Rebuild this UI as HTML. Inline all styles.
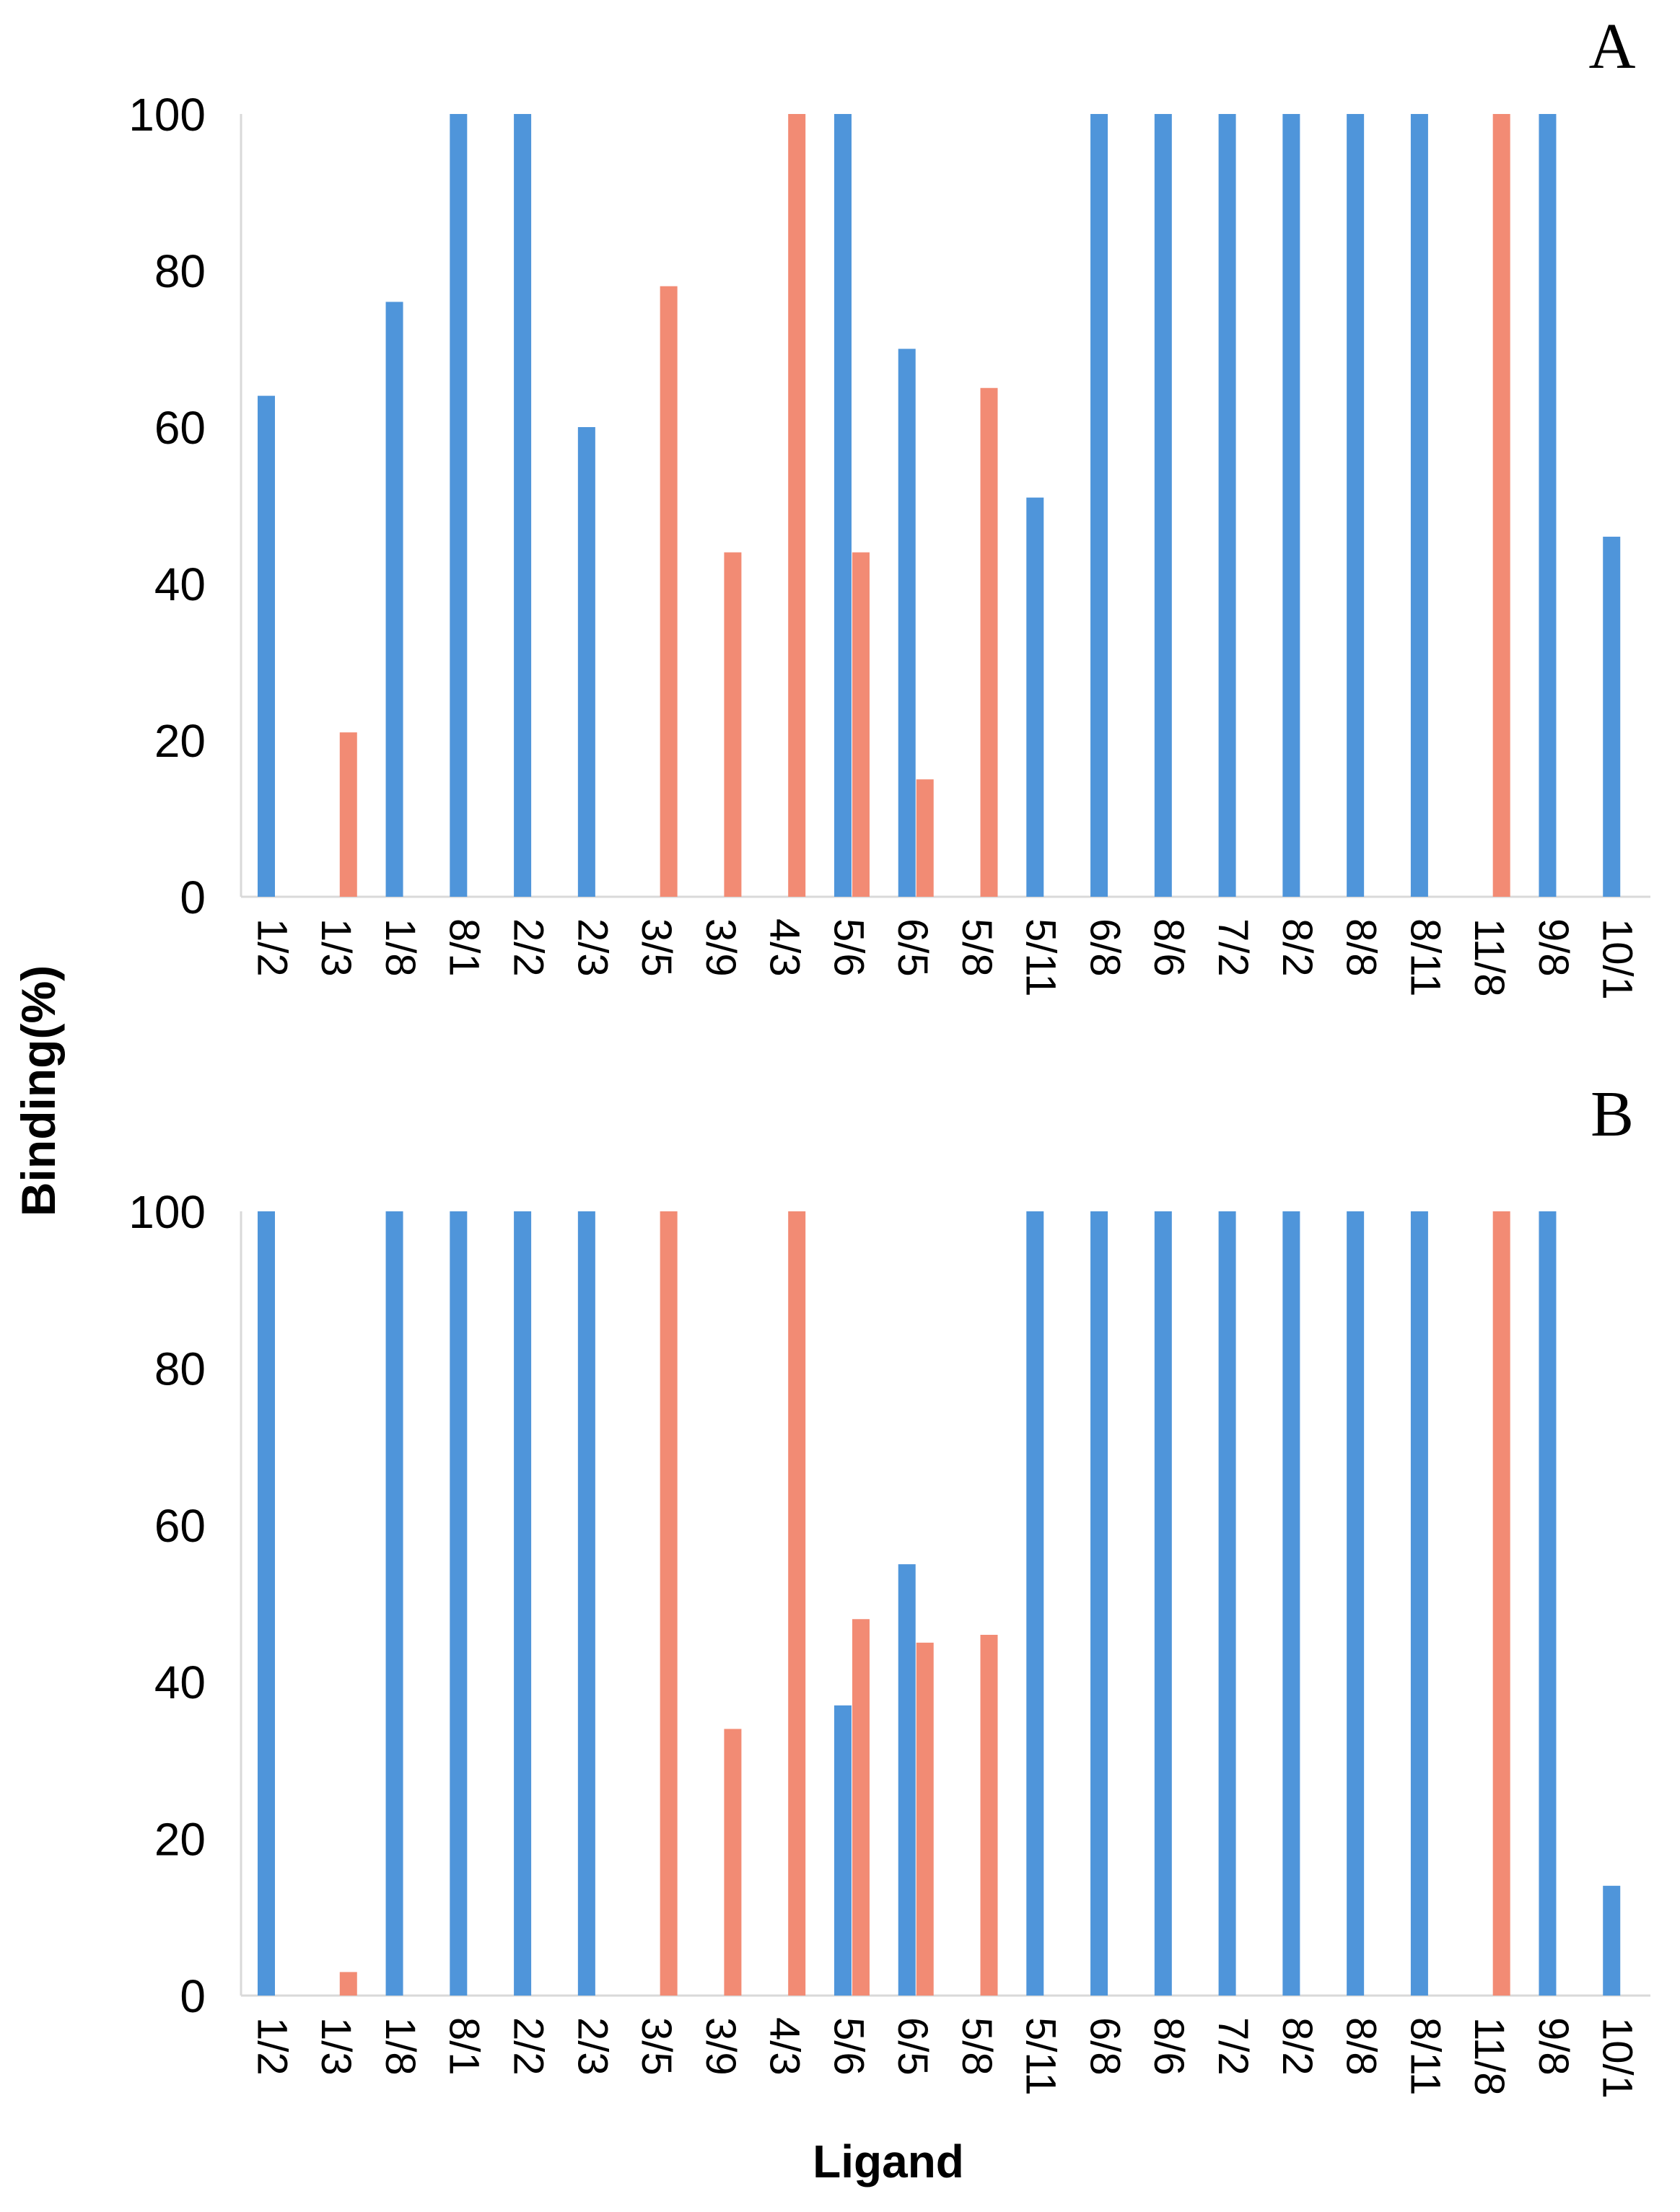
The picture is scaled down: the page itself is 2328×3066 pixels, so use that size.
<!DOCTYPE html>
<html><head><meta charset="utf-8"><style>
html,body{margin:0;padding:0;background:#fff;}
svg{display:block;}
</style></head><body>
<svg id="fig" width="2328" height="3066" xmlns="http://www.w3.org/2000/svg">
<text x="76" y="1512" transform="rotate(-90 76 1512)" text-anchor="middle" font-family="Liberation Sans, sans-serif" font-weight="bold" font-size="66">Binding(%)</text>
<text x="1231" y="3018" text-anchor="middle" font-family="Liberation Sans, sans-serif" font-weight="bold" font-size="64">Ligand</text>
<text x="2234" y="94" text-anchor="middle" font-family="Liberation Serif, serif" font-size="90">A</text>
<text x="2234" y="1574" text-anchor="middle" font-family="Liberation Serif, serif" font-size="90">B</text>
</svg>
<script>
const categories = ["1/2","1/3","1/8","8/1","2/2","2/3","3/5","3/9","4/3","5/6","6/5","5/8","5/11","6/8","8/6","7/2","8/2","8/8","8/11","11/8","9/8","10/1"];
const blueA = [64,0,76,100,100,60,0,0,0,100,70,0,51,100,100,100,100,100,100,0,100,46];
const orangeA = [0,21,0,0,0,0,78,44,100,44,15,65,0,0,0,0,0,0,0,100,0,0];
const blueB = [100,0,100,100,100,100,0,0,0,37,55,0,100,100,100,100,100,100,100,0,100,14];
const orangeB = [0,3,0,0,0,0,100,34,100,48,45,46,0,0,0,0,0,0,0,100,0,0];
const yTicks = [0,20,40,60,80,100];

const NS = "http://www.w3.org/2000/svg";
const svg = document.getElementById('fig');
function mk(tag, attrs){const e=document.createElementNS(NS,tag);for(const k in attrs)e.setAttribute(k,attrs[k]);svg.appendChild(e);return e;}

function drawPanel(id, blue, orange, y0, y100){
  const xL = 334, xR = 2287;
  const step = (xR - xL) / categories.length;
  const xCat = i => xL + step * i + 23;
  const ys = v => y0 + (y100 - y0) * v / 100;
  const ax = mk('line',{x1:xL,y1:y100,x2:xL,y2:y0,stroke:'#d9d9d9','stroke-width':3});
  
  
  const bx = mk('line',{x1:xL,y1:y0,x2:xR,y2:y0,stroke:'#d9d9d9','stroke-width':3});
  
  
  yTicks.forEach(t=>{
    const tx = mk('text',{x:285,y:ys(t)+23,'text-anchor':'end','font-family':'Liberation Sans, sans-serif','font-size':64});
    tx.textContent = t;
    
    
  });
  categories.forEach((c,i)=>{
    const bx0 = xCat(i);
    if(blue[i]>0){
      const r = mk('rect',{x:bx0,y:ys(blue[i]),width:24,height:y0-ys(blue[i]),fill:'#4f95da'});
      
      
    }
    if(orange[i]>0){
      const r = mk('rect',{x:bx0+25,y:ys(orange[i]),width:24,height:y0-ys(orange[i]),fill:'#f28b74'});
      
      
    }
    const lx = xL + step*(i+0.5) - 21, ly = y0 + 30;
    const t = mk('text',{x:lx,y:ly,transform:`rotate(90 ${lx} ${ly})`,'font-family':'Liberation Sans, sans-serif','font-size':58});
    t.textContent = c;
    
    
  });
}
drawPanel('panel-a', blueA, orangeA, 1243, 158);
drawPanel('panel-b', blueB, orangeB, 2766, 1679);
</script>
</body></html>
